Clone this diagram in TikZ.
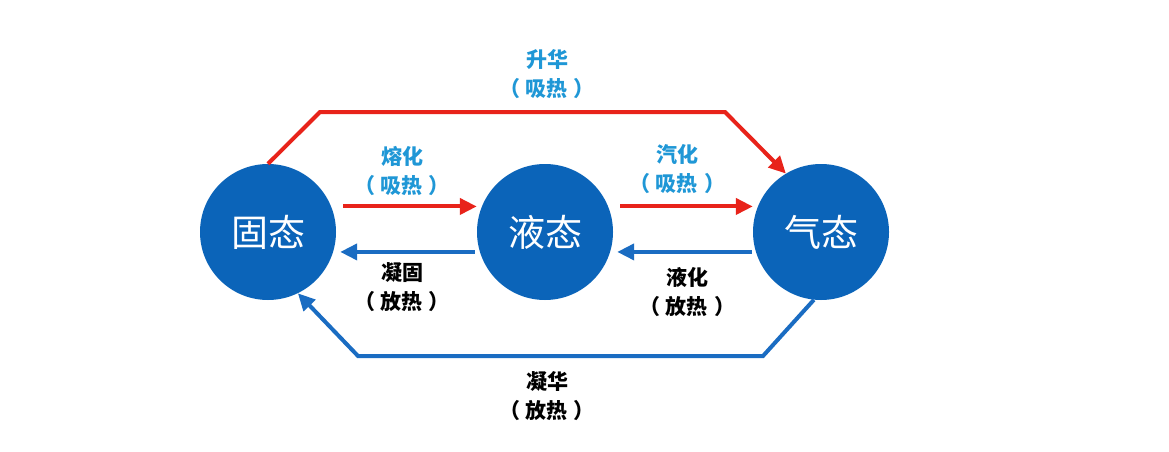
\documentclass[tikz,border=0pt]{standalone}
\usepackage{fontspec}
\newfontfamily\cjk{Noto Sans CJK SC}
\usepackage{tikz}
\usetikzlibrary{shapes, arrows.meta, positioning}
\definecolor{stateblue}{HTML}{0B64B9}
\definecolor{coolblue}{HTML}{1A6CC2}
\definecolor{heatred}{HTML}{E8231A}
\definecolor{labelblue}{HTML}{1F97D6}
\newcommand{\heatnote}[1]{（\hspace{6pt}#1\hspace{6pt}）}
\tikzstyle{state} = [circle, fill=stateblue, text=white, minimum size=136pt, inner sep=0pt, font=\cjk\fontsize{37}{40}\selectfont]
\tikzstyle{hot} = [draw=heatred, line width=4pt, -{Triangle[length=17pt, width=16pt]}]
\tikzstyle{cold} = [draw=coolblue, line width=4pt, -{Triangle[length=17pt, width=16pt]}]
\tikzstyle{hotlabel} = [align=center, text=labelblue, font=\cjk\bfseries\fontsize{21}{29}\selectfont]
\tikzstyle{coldlabel} = [align=center, text=black, font=\cjk\bfseries\fontsize{21}{29}\selectfont]

\begin{document}
\begin{tikzpicture}[x=1pt, y=-1pt]
			\useasboundingbox [fill=white] (0,0) rectangle (1169,452);
			\node [state] (solid) at (268, 232) {固态};
			\node [state] (liquid) at (545, 232) {液态};
			\node [state] (gas) at (821, 232) {气态};

			\coordinate (sub1) at (320, 112);
			\coordinate (sub2) at (725, 112);
			\coordinate (dep1) at (763, 356);
			\coordinate (dep2) at (358, 356);

			\path [hot] (solid.north) -- (sub1) -- (sub2) -- (gas.121);
			\path [hot, shorten <=12pt, shorten >=5pt] (solid.22) -- (liquid.158);
			\path [hot, shorten <=12pt, shorten >=5pt] (liquid.22) -- (gas.158);
			\path [cold, shorten <=5pt, shorten >=7pt] (liquid.197) -- (solid.-17);
			\path [cold, shorten <=4pt, shorten >=7pt] (gas.197) -- (liquid.-17);
			\path [cold] (gas.-96) -- (dep1) -- (dep2) -- (solid.-64);

			\node [hotlabel] (sublabel) at (547, 74) {升华\\\heatnote{吸热}};
			\node [hotlabel] (meltlabel) at (402, 171) {熔化\\\heatnote{吸热}};
			\node [hotlabel] (vaplabel) at (677, 169) {汽化\\\heatnote{吸热}};
			\node [coldlabel] (freezelabel) at (402, 287) {凝固\\\heatnote{放热}};
			\node [coldlabel] (condlabel) at (687, 292) {液化\\\heatnote{放热}};
			\node [coldlabel] (deplabel) at (547, 396) {凝华\\\heatnote{放热}};
		\end{tikzpicture}
\end{document}
